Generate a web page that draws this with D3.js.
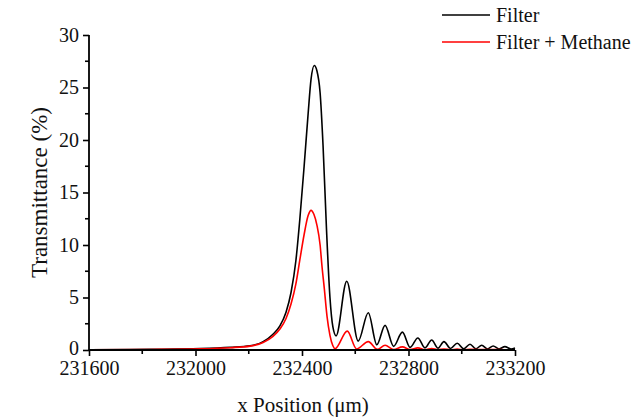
<!DOCTYPE html>
<html>
<head>
<meta charset="utf-8">
<script src="https://cdn.jsdelivr.net/npm/d3@7"></script>
<style>
  html, body { margin: 0; padding: 0; background: #fff; }
  svg { display: block; }
</style>
</head>
<body>
<svg id="chart" width="637" height="419"></svg>
<script>
// Transmittance of the filter alone and with methane, vs. x position (µm)
const filterX = [231600, 231829, 232017, 232130, 232205, 232254, 232291, 232317, 232340, 232359,
  232377, 232392, 232408, 232423, 232434, 232446, 232456, 232468, 232479, 232492, 232505, 232516,
  232528, 232568, 232611, 232649, 232681, 232712, 232744, 232777, 232806, 232835, 232862, 232887,
  232911, 232933, 232958, 232983, 233007, 233031, 233053, 233075, 233097, 233118, 233140, 233162,
  233185, 233200];
const filterT = [0.02, 0.06, 0.13, 0.25, 0.4, 0.8, 1.5, 2.3, 3.6, 5.5,
  8.5, 12.5, 17.5, 22.5, 25.8, 27.1, 26.6, 24.5, 19.5, 11.5, 5.0, 2.2,
  1.35, 6.55, 0.85, 3.55, 0.5, 2.35, 0.35, 1.7, 0.25, 1.15, 0.2, 0.95,
  0.18, 0.8, 0.15, 0.65, 0.12, 0.55, 0.12, 0.45, 0.1, 0.38, 0.1, 0.32,
  0.1, 0.2];

const methaneX = [231600, 231829, 232017, 232130, 232205, 232254, 232291, 232317, 232340, 232359,
  232377, 232392, 232408, 232423, 232434, 232445, 232456, 232468, 232475, 232484, 232494, 232505,
  232516, 232524, 232570, 232605, 232649, 232683, 232712, 232744, 232777, 232806, 232835, 232862,
  232887, 232911, 232933, 232958, 232983, 233007, 233031, 233075, 233118, 233162, 233200];
const methaneT = [0.02, 0.05, 0.11, 0.22, 0.37, 0.72, 1.3, 2.0, 3.0, 4.4,
  6.3, 8.6, 11.0, 12.8, 13.3, 12.9, 11.9, 10.0, 8.0, 5.8, 3.2, 1.4,
  0.4, 0.12, 1.8, 0.1, 0.8, 0.06, 0.45, 0.05, 0.3, 0.04, 0.2, 0.03,
  0.14, 0.03, 0.1, 0.03, 0.08, 0.02, 0.06, 0.05, 0.04, 0.03, 0.03];

const xMajorTicks = [231600, 232000, 232400, 232800, 233200];
const xMinorTicks = [231800, 232200, 232600, 233000];
const yMajorTicks = [0, 5, 10, 15, 20, 25, 30];
const yMinorTicks = [2.5, 7.5, 12.5, 17.5, 22.5, 27.5];

const seriesNames = ["Filter", "Filter + Methane"];
const seriesColors = ["#000000", "#ff0000"];

const FONT = "'Liberation Serif', 'Times New Roman', Times, 'DejaVu Serif', serif";

const svg = d3.select("#chart");
const plotLeft = 89, plotRight = 515, plotTop = 35, plotBottom = 350;

const x = d3.scaleLinear().domain([231600, 233200]).range([plotLeft, plotRight]);
const y = d3.scaleLinear().domain([0, 30]).range([plotBottom, plotTop]);

const line = d3.line()
  .x(d => x(d[0]))
  .y(d => y(d[1]))
  .curve(d3.curveMonotoneX);

const series = [
  d3.zip(filterX, filterT),
  d3.zip(methaneX, methaneT)
];

// curves
series.forEach((pts, i) => {
  svg.append("path")
    .datum(pts)
    .attr("fill", "none")
    .attr("stroke", seriesColors[i])
    .attr("stroke-width", 1.6)
    .attr("stroke-linejoin", "round")
    .attr("d", line);
});

// x axis
const xAxis = svg.append("g").attr("transform", `translate(0,${plotBottom})`);
xAxis.call(d3.axisBottom(x).tickValues(xMajorTicks).tickFormat(d3.format("d")).tickSize(6).tickPadding(5));
xAxis.append("g").selectAll("line").data(xMinorTicks).join("line")
  .attr("x1", d => x(d)).attr("x2", d => x(d)).attr("y1", 0).attr("y2", 4)
  .attr("stroke", "#000").attr("stroke-width", 1.6);

// y axis
const yAxis = svg.append("g").attr("transform", `translate(${plotLeft},0)`);
yAxis.call(d3.axisLeft(y).tickValues(yMajorTicks).tickSize(6).tickPadding(4));
yAxis.append("g").selectAll("line").data(yMinorTicks).join("line")
  .attr("y1", d => y(d)).attr("y2", d => y(d)).attr("x1", 0).attr("x2", -4)
  .attr("stroke", "#000").attr("stroke-width", 1.6);

[xAxis, yAxis].forEach(g => {
  g.attr("font-family", FONT).attr("font-size", 20);
  g.select(".domain").attr("stroke", "#000").attr("stroke-width", 1.8);
  g.selectAll(".tick line").attr("stroke", "#000").attr("stroke-width", 1.6);
  g.selectAll(".tick text").attr("fill", "#111");
});
xAxis.select(".domain").attr("d", `M${plotLeft},0H${plotRight}`);
yAxis.select(".domain").attr("d", `M0,${plotBottom}V${plotTop}`);
// lift the "0" label slightly so it clears the first x label
yAxis.selectAll(".tick text").filter(d => d === 0).attr("dy", "0.2em");

// axis titles
svg.append("text")
  .attr("x", 303).attr("y", 412)
  .attr("text-anchor", "middle")
  .attr("font-family", FONT).attr("font-size", 21).attr("fill", "#111")
  .text("x Position (\u03bcm)");

svg.append("text")
  .attr("transform", `translate(47,${(plotTop + plotBottom) / 2}) rotate(-90)`)
  .attr("text-anchor", "middle")
  .attr("font-family", FONT).attr("font-size", 23).attr("fill", "#111")
  .text("Transmittance (%)");

// legend
const legend = svg.append("g").attr("font-family", FONT).attr("font-size", 20);
seriesNames.forEach((name, i) => {
  const ly = 15 + i * 27;
  legend.append("line")
    .attr("x1", 442).attr("x2", 490).attr("y1", ly).attr("y2", ly)
    .attr("stroke", seriesColors[i]).attr("stroke-width", 1.6);
  legend.append("text")
    .attr("x", 496).attr("y", ly + 7)
    .attr("fill", "#111")
    .text(name);
});
</script>
</body>
</html>
